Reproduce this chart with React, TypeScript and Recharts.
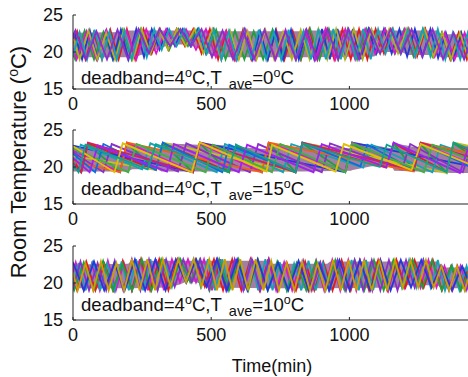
import React from 'react'
import { ComposedChart, Line, Area, XAxis, YAxis } from 'recharts'

const timeTicks = [0, 500, 1000]
const topTicks = [500, 1000]
const tempTicks = [15, 20, 25]

// dense core of each band: t (min), lower edge, upper edge
const band1 = [[0,19.3,22.6],[195,19.3,22.7],[200,19.3,22.9],[230,19.4,22.9],[270,19.9,22.9],[310,20.4,22.9],[350,21.0,22.9],[420,21.0,22.9],[460,20.4,22.9],[495,19.7,22.9],[520,19.3,22.8],[850,19.3,22.8],[860,19.3,22.9],[1090,19.4,22.9],[1110,20.0,22.9],[1190,20.0,22.9],[1210,19.6,22.9],[1320,19.6,22.9],[1330,19.3,22.4],[1440,19.3,22.4]]
const band2 = [[0,19.4,22.8],[50,19.4,22.5],[56,19.4,23.1],[190,19.4,21.8],[197,19.4,23.0],[215,19.7,23.0],[305,19.7,22.3],[320,19.4,22.3],[327,19.4,23.2],[455,19.4,23.0],[461,19.4,23.2],[700,19.4,22.4],[710,19.4,23.2],[825,19.4,22.6],[832,19.4,23.2],[1005,19.5,22.5],[1012,19.6,23.2],[1080,20.1,23.0],[1155,20.0,22.5],[1162,19.5,23.2],[1252,19.4,22.6],[1260,19.4,23.2],[1370,19.2,22.5],[1379,19.2,23.2],[1440,19.2,22.8]]
const band3 = [[0,19.3,22.5],[200,19.3,22.6],[210,19.3,23.0],[350,19.4,23.0],[385,19.8,23.0],[420,20.3,23.0],[455,20.0,23.0],[485,19.4,23.0],[712,19.3,23.0],[720,19.3,22.6],[920,19.3,22.6],[930,19.3,22.9],[1180,19.4,22.9],[1200,19.7,22.9],[1320,19.7,22.9],[1330,19.3,22.1],[1440,19.3,22.1]]

// each array: t (min), T (degC), t, T, ...
// panel 1, T_ave = 0
const a1 = [0,21.2, 15,22.8, 45,19, 75,22.6, 105,19, 135,23, 165,19, 195,23.1, 225,19, 255,23.1, 285,19.8, 315,23.1, 345,20.3, 375,23.1, 405,20.8, 435,23.1, 465,19.8, 495,23.1, 525,19, 555,22.8, 585,19, 615,23, 645,19, 675,22.7, 705,19, 735,23, 765,19, 795,22.8, 825,19, 855,23.1, 885,19, 915,23.1, 945,19, 975,23.1, 1005,19, 1035,23.1, 1065,19, 1095,23.1, 1125,19.8, 1155,23.1, 1185,19.8, 1215,23.1, 1245,19.4, 1275,23.1, 1305,19.4, 1335,22.6, 1365,19, 1395,22.6, 1425,19, 1440,20.8]
const b1 = [0,19.8, 8,19, 42,22.9, 76,19, 110,22.7, 144,19, 178,23, 212,19, 246,23.1, 280,19.8, 314,23.1, 348,20.3, 382,23.1, 416,20.8, 450,23.1, 484,19.8, 518,23, 552,19, 586,22.9, 620,19, 654,22.8, 688,19, 722,23, 756,19, 790,22.7, 824,19, 858,23.1, 892,19, 926,23.1, 960,19, 994,23.1, 1028,19, 1062,23.1, 1096,19.8, 1130,23.1, 1164,19.8, 1198,23.1, 1232,19.4, 1266,23.1, 1300,19.4, 1334,22.6, 1368,19, 1402,22.6, 1436,19, 1440,19.4]
const c1 = [0,22.0, 5,22.6, 33,19, 61,22.9, 89,19, 117,22.7, 145,19, 173,23, 201,19, 229,23.1, 257,19.3, 285,23.1, 313,20.3, 341,23.1, 369,20.8, 397,23.1, 425,20.8, 453,23.1, 481,19.8, 509,23, 537,19, 565,22.7, 593,19, 621,23, 649,19, 677,22.8, 705,19, 733,22.9, 761,19, 789,23, 817,19, 845,22.9, 873,19, 901,23.1, 929,19, 957,23.1, 985,19, 1013,23.1, 1041,19, 1069,23.1, 1097,19.8, 1125,23.1, 1153,19.8, 1181,23.1, 1209,19.4, 1237,23.1, 1265,19.4, 1293,23.1, 1321,19.2, 1349,22.6, 1377,19, 1405,22.6, 1433,19, 1440,19.9]
const d1 = [0,20.5, 13,19, 49,22.8, 85,19, 121,23, 157,19, 193,22.9, 229,19, 265,23.1, 301,19.8, 337,23.1, 373,20.8, 409,23.1, 445,20.3, 481,23.1, 517,19.3, 553,22.8, 589,19, 625,23, 661,19, 697,22.7, 733,19, 769,23, 805,19, 841,22.9, 877,19, 913,23.1, 949,19, 985,23.1, 1021,19, 1057,23.1, 1093,19.8, 1129,23.1, 1165,19.8, 1201,23.1, 1237,19.4, 1273,23.1, 1309,19.4, 1345,22.6, 1381,19, 1417,22.6, 1440,20.1]
const e1 = [0,22.0, 24,19, 56,22.9, 88,19, 120,22.6, 152,19, 184,23, 216,19, 248,23.1, 280,19.8, 312,23.1, 344,20.3, 376,23.1, 408,20.8, 440,23.1, 472,19.8, 504,23.1, 536,19, 568,22.9, 600,19, 632,22.8, 664,19, 696,23, 728,19, 760,22.7, 792,19, 824,23, 856,19, 888,23.1, 920,19, 952,23.1, 984,19, 1016,23.1, 1048,19, 1080,23.1, 1112,19.8, 1144,23.1, 1176,19.8, 1208,23.1, 1240,19.4, 1272,23.1, 1304,19.4, 1336,22.6, 1368,19, 1400,22.6, 1432,19, 1440,19.9]
const f1 = [0,19.5, 24,22.7, 51,19, 78,23, 105,19, 132,22.8, 159,19, 186,22.9, 213,19, 240,23.1, 267,19.3, 294,23.1, 321,20.3, 348,23.1, 375,20.8, 402,23.1, 429,20.8, 456,23.1, 483,19.8, 510,23, 537,19, 564,22.8, 591,19, 618,22.9, 645,19, 672,23, 699,19, 726,22.7, 753,19, 780,23, 807,19, 834,22.8, 861,19, 888,23.1, 915,19, 942,23.1, 969,19, 996,23.1, 1023,19, 1050,23.1, 1077,19, 1104,23.1, 1131,19.8, 1158,23.1, 1185,19.8, 1212,23.1, 1239,19.4, 1266,23.1, 1293,19.4, 1320,23.1, 1347,19, 1374,22.6, 1401,19, 1428,22.6, 1440,21.0]
const g1 = [0,21.8, 9,22.9, 47,19, 85,22.8, 123,19, 161,23, 199,19, 237,23.1, 275,19.8, 313,23.1, 351,20.8, 389,23.1, 427,20.8, 465,23.1, 503,19.3, 541,22.9, 579,19, 617,22.7, 655,19, 693,23, 731,19, 769,22.8, 807,19, 845,23, 883,19, 921,23.1, 959,19, 997,23.1, 1035,19, 1073,23.1, 1111,19.8, 1149,23.1, 1187,19.8, 1225,23.1, 1263,19.4, 1301,23.1, 1339,19, 1377,22.6, 1415,19, 1440,21.6]

// panel 2, T_ave = 15 (slow cooling, fast heating)
const a2 = [0,21.0, 29,19.3, 54,23.2, 300,19.6, 325,23.2, 565,19.3, 590,22.9, 805,19.3, 830,23.2, 1133,19.9, 1160,23.2, 1352,19.3, 1377,23.2, 1440,22.2]
const b2 = [0,22.9, 434,19.3, 459,23.3, 985,19.3, 1010,23.3, 1440,20.1]
const c2 = [0,20.0, 30,19.3, 54,23.1, 170,19.3, 195,23.2, 300,19.7, 325,23.2, 434,19.3, 459,23.2, 565,19.3, 590,23.0, 683,19.3, 708,23.2, 805,19.3, 830,23.2, 985,19.3, 1010,23.2, 1135,20.0, 1160,23.2, 1233,19.6, 1258,23.1, 1352,19.2, 1377,23.2, 1440,21.6]
const d2 = [0,22.2, 170,19.3, 195,23.3, 434,19.3, 459,23.2, 683,19.3, 708,23.3, 985,19.4, 1010,23.3, 1233,19.6, 1258,23.2, 1440,20.4]
const e2 = [0,21.5, 300,19.6, 325,23.3, 805,19.3, 830,23.3, 1352,19.2, 1377,23.3, 1440,22.8]
const f2 = [0,19.6, 28,23.0, 250,19.7, 280,23.2, 520,19.3, 550,23.1, 760,19.3, 790,23.1, 1050,19.9, 1080,23.0, 1300,19.3, 1330,23.0, 1440,21.6]
const g2 = [0,22.0, 110,19.3, 140,23.1, 380,19.4, 410,23.2, 640,19.3, 670,23.1, 900,19.3, 930,23.2, 1190,19.7, 1220,23.1, 1410,19.3, 1440,22.6]
const h2 = [0,20.8, 170,19.3, 195,23.3, 683,19.3, 708,23.3, 1233,19.4, 1258,23.3, 1440,21.8]
const i2 = [0,21.8, 80,19.3, 110,23.1, 300,19.6, 325,23.3, 540,19.3, 565,23.0, 805,19.3, 830,23.3, 1040,20.1, 1065,23.0, 1233,19.6, 1258,23.2, 1440,20.0]
const j2 = [0,20.5, 30,19.3, 54,23.3, 434,19.3, 459,23.3, 805,19.3, 830,23.3, 1233,19.6, 1258,23.3, 1440,21.3]
const k2 = [0,22.5, 200,19.3, 230,23.1, 480,19.3, 505,23.0, 720,19.3, 750,23.1, 985,19.3, 1010,23.2, 1270,19.3, 1300,23.0, 1440,21.0]
const l2 = [0,21.2, 60,19.3, 90,22.9, 340,19.4, 365,23.1, 600,19.3, 630,23.0, 870,19.3, 900,23.1, 1133,20.0, 1160,23.3, 1400,19.2, 1430,22.6, 1440,22.4]
const m2 = [0,22.8, 150,19.3, 180,23.2, 430,19.3, 459,23.3, 700,19.4, 720,23.0, 950,19.4, 980,23.1, 1225,19.6, 1258,23.1, 1440,20.3]
const n2 = [0,20.3, 20,19.3, 45,23.0, 270,19.7, 300,23.1, 560,19.3, 590,23.0, 805,19.3, 830,23.2, 1110,20.0, 1135,23.0, 1352,19.3, 1377,23.3, 1440,22.3]

// panel 3, T_ave = 10
const a3 = [0,21.4, 10,22.8, 39,19, 68,22.6, 97,19, 126,23.0, 155,19, 184,22.7, 213,19, 242,23.2, 271,19, 300,23.2, 329,19, 358,23.2, 387,20.1, 416,23.2, 445,20.1, 474,23.2, 503,19, 532,23.2, 561,19, 590,23.2, 619,19, 648,23.2, 677,19, 706,23.2, 735,19, 764,22.8, 793,19, 822,22.6, 851,19, 880,23.0, 909,19, 938,23.1, 967,19, 996,23.1, 1025,19, 1054,23.1, 1083,19, 1112,23.1, 1141,19, 1170,23.1, 1199,19.4, 1228,23.1, 1257,19.4, 1286,23.1, 1315,19.4, 1344,22.3, 1373,19, 1402,22.3, 1431,19, 1440,20.1]
const b3 = [0,20.8, 15,19, 48,22.9, 81,19, 114,22.6, 147,19, 180,23.0, 213,19, 246,23.2, 279,19, 312,23.2, 345,19, 378,23.2, 411,20.1, 444,23.2, 477,19.5, 510,23.2, 543,19, 576,23.2, 609,19, 642,23.2, 675,19, 708,23.2, 741,19, 774,22.7, 807,19, 840,22.9, 873,19, 906,22.8, 939,19, 972,23.1, 1005,19, 1038,23.1, 1071,19, 1104,23.1, 1137,19, 1170,23.1, 1203,19.4, 1236,23.1, 1269,19.4, 1302,23.1, 1335,19, 1368,22.3, 1401,19, 1434,22.3, 1440,21.7]
const c3 = [0,19.6, 20,22.7, 46,19, 72,23.0, 98,19, 124,22.6, 150,19, 176,22.9, 202,19, 228,23.2, 254,19, 280,23.2, 306,19, 332,23.2, 358,19.5, 384,23.2, 410,20.1, 436,23.2, 462,19.5, 488,23.2, 514,19, 540,23.2, 566,19, 592,23.2, 618,19, 644,23.2, 670,19, 696,23.2, 722,19, 748,22.8, 774,19, 800,22.6, 826,19, 852,23.0, 878,19, 904,22.7, 930,19, 956,23.1, 982,19, 1008,23.1, 1034,19, 1060,23.1, 1086,19, 1112,23.1, 1138,19, 1164,23.1, 1190,19.4, 1216,23.1, 1242,19.4, 1268,23.1, 1294,19.4, 1320,23.1, 1346,19, 1372,22.3, 1398,19, 1424,22.3, 1440,20.1]
const d3 = [0,19.4, 4,19, 39,22.8, 74,19, 109,23.0, 144,19, 179,22.6, 214,19, 249,23.2, 284,19, 319,23.2, 354,19.5, 389,23.2, 424,20.1, 459,23.2, 494,19, 529,23.2, 564,19, 599,23.2, 634,19, 669,23.2, 704,19, 739,22.9, 774,19, 809,22.7, 844,19, 879,23.0, 914,19, 949,23.1, 984,19, 1019,23.1, 1054,19, 1089,23.1, 1124,19, 1159,23.1, 1194,19.4, 1229,23.1, 1264,19.4, 1299,23.1, 1334,19, 1369,22.3, 1404,19, 1439,22.3]
const e3 = [0,19.2, 27,22.9, 58,19, 89,22.7, 120,19, 151,23.0, 182,19, 213,23.2, 244,19, 275,23.2, 306,19, 337,23.2, 368,19.5, 399,23.2, 430,20.1, 461,23.2, 492,19.2, 523,23.2, 554,19, 585,23.2, 616,19, 647,23.2, 678,19, 709,23.2, 740,19, 771,22.7, 802,19, 833,23.0, 864,19, 895,22.8, 926,19, 957,23.1, 988,19, 1019,23.1, 1050,19, 1081,23.1, 1112,19, 1143,23.1, 1174,19, 1205,23.1, 1236,19.4, 1267,23.1, 1298,19.4, 1329,22.3, 1360,19, 1391,22.3, 1422,19, 1440,21.2]
const f3 = [0,22.4, 2,22.6, 39,19, 76,22.9, 113,19, 150,22.7, 187,19, 224,23.2, 261,19, 298,23.2, 335,19, 372,23.2, 409,20.1, 446,23.2, 483,19.5, 520,23.2, 557,19, 594,23.2, 631,19, 668,23.2, 705,19, 742,22.8, 779,19, 816,23.0, 853,19, 890,22.7, 927,19, 964,23.1, 1001,19, 1038,23.1, 1075,19, 1112,23.1, 1149,19, 1186,23.1, 1223,19.4, 1260,23.1, 1297,19.4, 1334,22.3, 1371,19, 1408,22.3, 1440,19.4]
const g3 = [0,21.4, 17,19, 45,22.6, 73,19, 101,22.9, 129,19, 157,22.7, 185,19, 213,23.2, 241,19, 269,23.2, 297,19, 325,23.2, 353,19.5, 381,23.2, 409,20.1, 437,23.2, 465,19.5, 493,23.2, 521,19, 549,23.2, 577,19, 605,23.2, 633,19, 661,23.2, 689,19, 717,23.0, 745,19, 773,22.7, 801,19, 829,22.9, 857,19, 885,22.6, 913,19, 941,23.1, 969,19, 997,23.1, 1025,19, 1053,23.1, 1081,19, 1109,23.1, 1137,19, 1165,23.1, 1193,19.4, 1221,23.1, 1249,19.4, 1277,23.1, 1305,19.4, 1333,22.3, 1361,19, 1389,22.3, 1417,19, 1440,21.8]

const colors1 = ['#e41a1c', '#1fa03a', '#2438d8', '#d81bc8', '#b0b020', '#14a3b5', '#8b2fc9']
const colors2 = ['#e41a1c', '#2438d8', '#1fa03a', '#d81bc8', '#c0c020', '#14a3b5', '#8b2fc9', '#f06010', '#0a6ee0', '#d02060', '#40b040', '#a020f0', '#e0c000', '#10a090']
const colors3 = ['#d81bc8', '#e41a1c', '#14a3b5', '#1fa03a', '#8b2fc9', '#2438d8', '#c9a000']

const font = '"Liberation Sans", Arial, Helvetica, sans-serif'
const ink = '#111'
const bandFill = '#8a5f8c'

const pairs = (flat: number[]) => {
  const pts: { t: number; v: number }[] = []
  for (let i = 0; i < flat.length; i += 2) pts.push({ t: flat[i], v: flat[i + 1] })
  return pts
}

interface PanelProps {
  lines: number[][]
  band: number[][]
  colors: string[]
  top: number
  ave: string
  textY: number
}

function Panel({ lines, band, colors, top, ave, textY }: PanelProps) {
  const bandData = band.map(([t, lo, hi]) => ({ t, r: [lo, hi] }))
  return (
    <div style={{ position: 'absolute', left: 0, top, width: 490, height: 120 }}>
      <ComposedChart width={490} height={120} margin={{ top: 15, right: 19, bottom: 0, left: 0 }}>
        <XAxis
          dataKey="t"
          type="number"
          domain={[0, 1440]}
          ticks={timeTicks}
          allowDataOverflow
          height={31}
          tickSize={-3}
          tickMargin={11}
          axisLine={{ stroke: '#222' }}
          tickLine={{ stroke: '#222' }}
          tick={{ fill: ink, fontSize: 18, fontFamily: font }}
        />
        <XAxis
          xAxisId="top"
          orientation="top"
          type="number"
          domain={[0, 1440]}
          ticks={topTicks}
          allowDataOverflow
          height={0}
          tickSize={-3}
          tick={false}
          axisLine={{ stroke: '#222' }}
          tickLine={{ stroke: '#222' }}
        />
        <YAxis
          type="number"
          domain={[15, 25]}
          ticks={tempTicks}
          allowDataOverflow
          width={73}
          tickSize={-3}
          tickMargin={13}
          axisLine={{ stroke: '#222' }}
          tickLine={{ stroke: '#222' }}
          tick={{ fill: ink, fontSize: 18, fontFamily: font }}
        />
        <Area
          data={bandData}
          dataKey="r"
          type="linear"
          stroke="none"
          fill={bandFill}
          fillOpacity={0.8}
          isAnimationActive={false}
        />
        {lines.map((d, i) => (
          <Line
            key={i}
            data={pairs(d)}
            dataKey="v"
            type="linear"
            stroke={colors[i % colors.length]}
            strokeWidth={1.8}
            dot={false}
            isAnimationActive={false}
          />
        ))}
      </ComposedChart>
      <svg width={490} height={120} style={{ position: 'absolute', left: 0, top: 0, pointerEvents: 'none' }}>
        <text x={81} y={textY} fontSize={18.6} fontFamily={font} fill={ink}>
          deadband=4<tspan dy={-7} fontSize={12.5}>o</tspan>
          <tspan dy={7}>C,T</tspan>
          <tspan dx={7} dy={5} fontSize={14.5}>ave</tspan>
          <tspan dy={-5}>={ave}</tspan>
          <tspan dy={-7} fontSize={12.5}>o</tspan>
          <tspan dy={7}>C</tspan>
        </text>
      </svg>
    </div>
  )
}

export default function App() {
  return (
    <div style={{ position: 'fixed', left: 0, top: 0, width: 468, height: 377, overflow: 'hidden', background: '#fff' }}>
      <Panel lines={[a1, b1, c1, d1, e1, f1, g1]} band={band1} colors={colors1} top={0} ave="0" textY={84} />
      <Panel lines={[a2, b2, c2, d2, e2, f2, g2, h2, i2, j2, k2, l2, m2, n2]} band={band2} colors={colors2} top={115} ave="15" textY={80} />
      <Panel lines={[a3, b3, c3, d3, e3, f3, g3]} band={band3} colors={colors3} top={231} ave="10" textY={80} />
      <svg width={468} height={377} style={{ position: 'absolute', left: 0, top: 0, pointerEvents: 'none' }}>
        <text
          x={26}
          y={162}
          transform="rotate(-90 26 162)"
          textAnchor="middle"
          fontSize={22}
          fontFamily={font}
          fill={ink}
        >
          Room Temperature (<tspan dy={-8} fontSize={14}>o</tspan><tspan dy={8}>C)</tspan>
        </text>
        <text x={272} y={372} textAnchor="middle" fontSize={18} fontFamily={font} fill={ink}>
          Time(min)
        </text>
      </svg>
    </div>
  )
}
